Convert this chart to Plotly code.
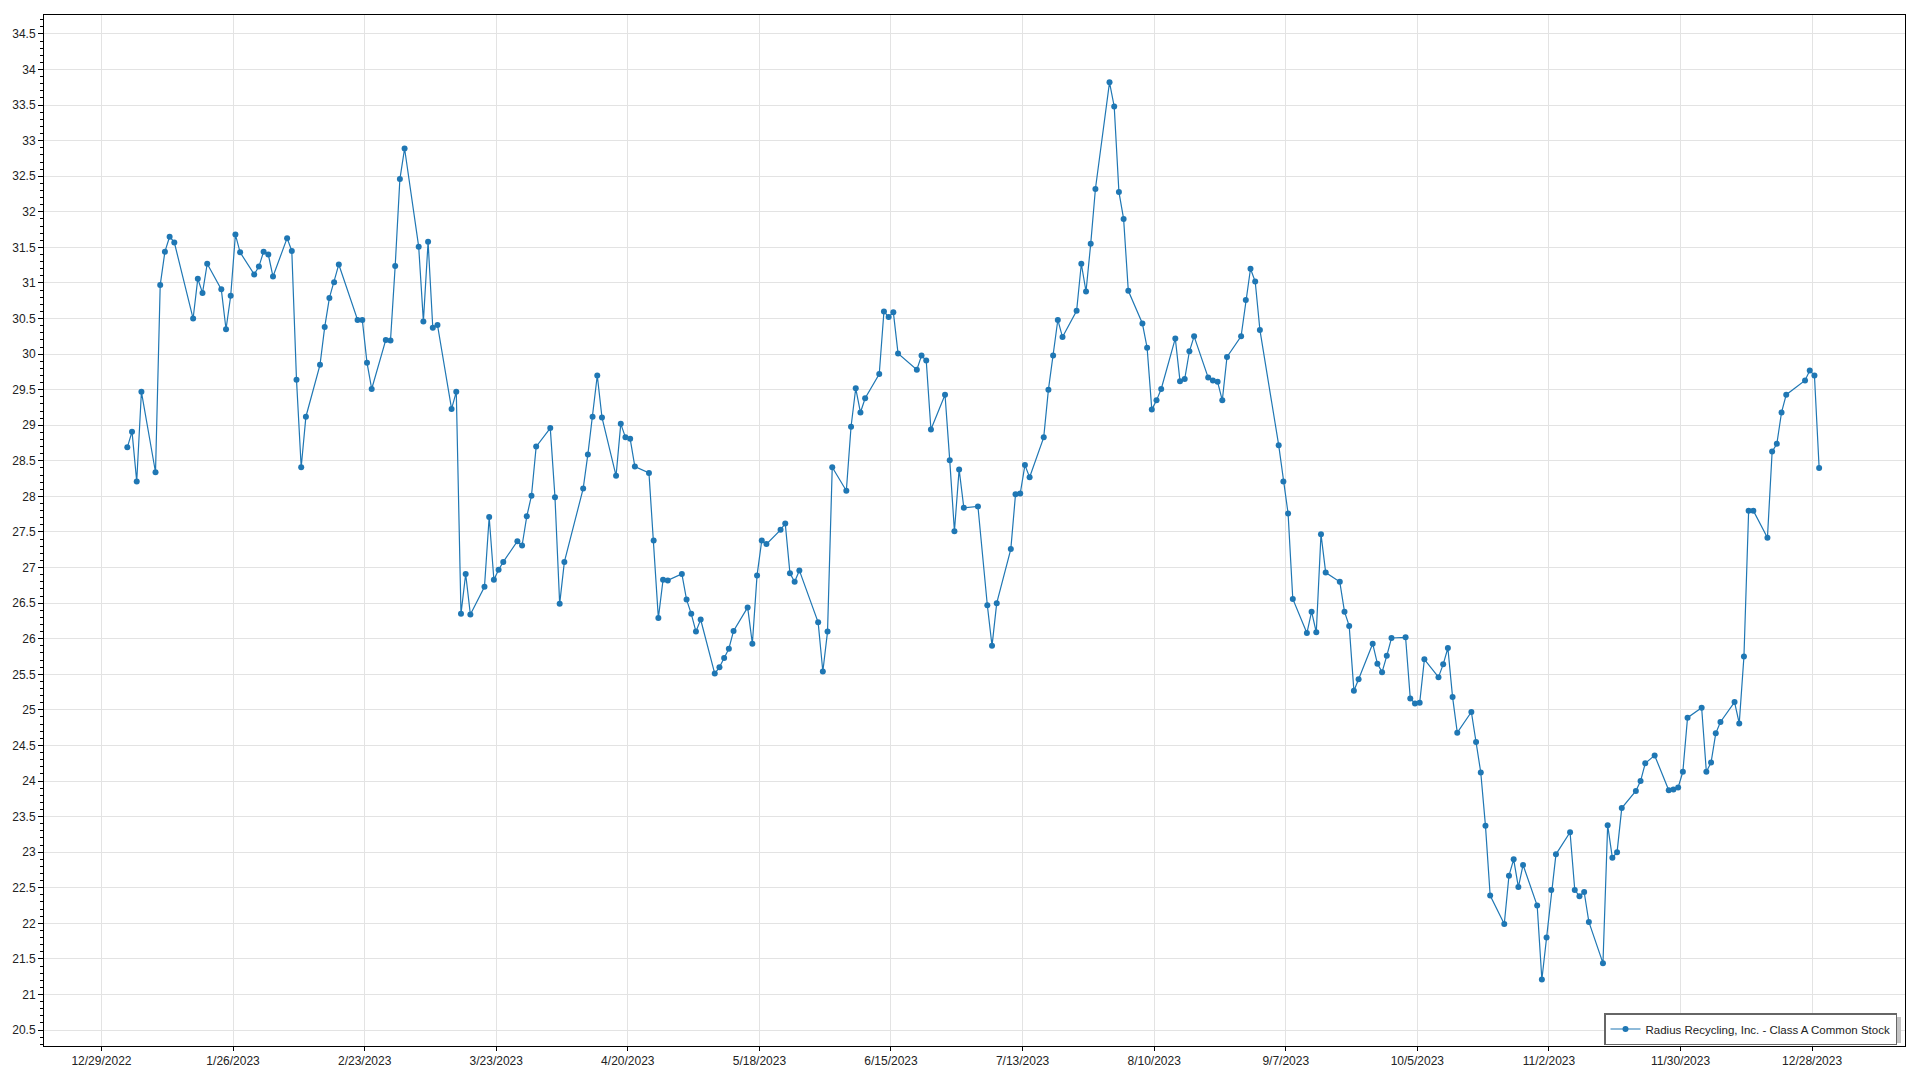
import pandas as pd
import plotly.graph_objects as go

# ---- data: trading days of 2023 (day numbers per month) and closing prices ----
jan_days = [3,4,5,6,9,10,11,12,13,17,18,19,20,23,24,25,26,27,30,31]
jan_vals = [28.69,28.91,28.21,29.47,28.34,30.97,31.44,31.65,31.57,30.50,31.06,30.86,31.27,30.91,30.35,30.82,31.68,31.43,31.12,31.23]
feb_days = [1,2,3,6,7,8,9,10,13,14,15,16,17,21,22,23,24,27,28]
feb_vals = [31.44,31.40,31.09,31.63,31.45,29.64,28.41,29.12,29.85,30.38,30.79,31.01,31.26,30.48,30.48,29.88,29.51,30.20,30.19]
mar_days = [1,2,3,6,7,8,9,10,13,14,15,16,17,20,21,22,23,24,27,28,29,30,31]
mar_vals = [31.24,32.46,32.89,31.51,30.46,31.58,30.37,30.41,29.23,29.47,26.35,26.91,26.34,26.73,27.71,26.83,26.97,27.08,27.37,27.31,27.72,28.01,28.70]
apr_days = [3,4,5,6,10,11,12,13,14,17,18,19,20,21,24,25,26,27,28]
apr_vals = [28.96,27.99,26.49,27.08,28.11,28.59,29.12,29.70,29.11,28.29,29.02,28.83,28.81,28.42,28.33,27.38,26.29,26.83,26.82]
may_days = [1,2,3,4,5,8,9,10,11,12,15,16,17,18,19,22,23,24,25,26,30,31]
may_vals = [26.91,26.55,26.35,26.10,26.27,25.51,25.60,25.73,25.86,26.11,26.44,25.93,26.89,27.38,27.33,27.53,27.62,26.92,26.80,26.96,26.23,25.54]
jun_days = [1,2,5,6,7,8,9,12,13,14,15,16,20,21,22,23,26,27,28,29,30]
jun_vals = [26.10,28.41,28.08,28.98,29.52,29.18,29.38,29.72,30.60,30.52,30.59,30.01,29.78,29.98,29.91,28.94,29.43,28.51,27.51,28.38,27.84]
jul_days = [3,5,6,7,10,11,12,13,14,17,18,19,20,21,24,25,26,27,28,31]
jul_vals = [27.86,26.47,25.90,26.50,27.26,28.03,28.04,28.44,28.27,28.83,29.50,29.98,30.48,30.24,30.61,31.27,30.88,31.55,32.32,33.82]
aug_days = [1,2,3,4,7,8,9,10,11,14,15,16,17,18,21,22,23,24,25,28,29,30,31]
aug_vals = [33.48,32.28,31.90,30.89,30.43,30.09,29.22,29.35,29.51,30.22,29.62,29.65,30.04,30.25,29.67,29.63,29.61,29.35,29.96,30.25,30.76,31.20,31.02]
sep_days = [1,5,6,7,8,11,12,13,14,15,18,19,20,21,22,25,26,27,28,29]
sep_vals = [30.34,28.72,28.21,27.76,26.56,26.08,26.38,26.09,27.47,26.93,26.80,26.38,26.18,25.27,25.43,25.93,25.65,25.53,25.76,26.01]
oct_days = [2,3,4,5,6,9,10,11,12,13,16,17,18,19,20,23,24,25,26,27,30,31]
oct_vals = [26.02,25.16,25.09,25.10,25.71,25.46,25.64,25.87,25.18,24.68,24.97,24.55,24.12,23.37,22.39,21.99,22.67,22.90,22.51,22.82,22.25,21.21]
nov_days = [1,2,3,6,7,8,9,10,13,14,15,16,17,20,21,22,24,27,28,29,30]
nov_vals = [21.80,22.47,22.97,23.28,22.47,22.38,22.44,22.02,21.44,23.38,22.92,23.00,23.62,23.86,24.00,24.25,24.36,23.87,23.88,23.91,24.13]
dec_days = [1,4,5,6,7,8,11,12,13,14,15,18,19,20,21,22,26,27,28,29]
dec_vals = [24.89,25.03,24.13,24.26,24.67,24.83,25.11,24.81,25.75,27.80,27.80,27.42,28.63,28.74,29.18,29.43,29.63,29.77,29.70,28.40]

series_name = "Radius Recycling, Inc. - Class A Common Stock"

months = [(1, jan_days, jan_vals), (2, feb_days, feb_vals), (3, mar_days, mar_vals),
          (4, apr_days, apr_vals), (5, may_days, may_vals), (6, jun_days, jun_vals),
          (7, jul_days, jul_vals), (8, aug_days, aug_vals), (9, sep_days, sep_vals),
          (10, oct_days, oct_vals), (11, nov_days, nov_vals), (12, dec_days, dec_vals)]

dates, values = [], []
for m, ds, vs in months:
    assert len(ds) == len(vs)
    for d, v in zip(ds, vs):
        dates.append(pd.Timestamp(2023, m, d))
        values.append(v)

# points sit mid-day relative to the date grid in the reference
x = [d + pd.Timedelta(hours=12) for d in dates]

W, H = 1920, 1080
L, R, T, B = 43, 15, 15, 30
pw, ph = W - L - R, H - T - B

def px_x(p):
    return (p - L) / pw

def px_y(p):
    return (H - B - p) / ph

blue = "#1f77b4"
font_family = "Segoe UI, Liberation Sans, Arial, sans-serif"

fig = go.Figure()
fig.add_trace(go.Scatter(
    x=x, y=values, mode="lines+markers", name=series_name,
    line=dict(color=blue, width=1.2),
    marker=dict(color=blue, size=6, symbol="circle"),
    showlegend=True,
))

# legend shadow
fig.add_shape(type="rect", xref="paper", yref="paper",
              x0=px_x(1611), x1=px_x(1901), y0=px_y(1047), y1=px_y(1021),
              fillcolor="#c4c4c4", line=dict(width=0), layer="above")

fig.update_layout(
    width=W, height=H,
    margin=dict(l=L, r=R, t=T, b=B, pad=0),
    paper_bgcolor="white", plot_bgcolor="white",
    font=dict(family=font_family, size=12, color="#222222"),
    legend=dict(x=px_x(1897), y=px_y(1049), xanchor="right", yanchor="bottom",
                bgcolor="white", bordercolor="#666666", borderwidth=1.5,
                font=dict(size=11.5, color="#222222"),
                itemwidth=30, tracegroupgap=0),
    xaxis=dict(
        type="date",
        range=["2022-12-16 18:30", "2024-01-16 18:30"],
        tick0="2022-12-29", dtick=28 * 86400000, tickformat="%-m/%-d/%Y",
        showgrid=True, gridcolor="#e3e3e3", gridwidth=1,
        showline=True, linecolor="black", linewidth=1, mirror=True,
        ticks="outside", ticklen=4, tickcolor="black",
        zeroline=False,
        tickfont=dict(size=12, color="#222222"),
    ),
    yaxis=dict(
        range=[20.276, 34.766],
        tick0=20.5, dtick=0.5,
        showgrid=True, gridcolor="#e3e3e3", gridwidth=1,
        showline=True, linecolor="black", linewidth=1, mirror=True,
        ticks="outside", ticklen=5, tickcolor="black",
        minor=dict(dtick=0.1, ticks="outside", ticklen=3, tickcolor="black", showgrid=False),
        zeroline=False,
        tickfont=dict(size=12, color="#222222"),
    ),
)

fig.write_html("out.html", config={"displayModeBar": False},
               post_script="document.body.style.margin='0';")
